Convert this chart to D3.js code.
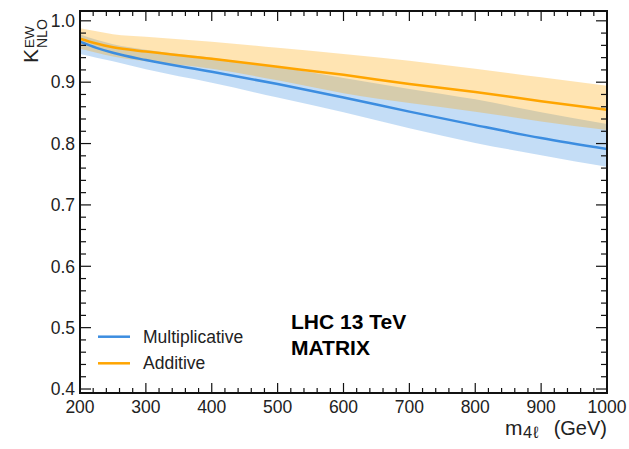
<!DOCTYPE html>
<html>
<head>
<meta charset="utf-8">
<script src="https://cdn.jsdelivr.net/npm/d3@7"></script>
<style>
  html, body { margin: 0; padding: 0; background: #fff; }
  svg { display: block; font-family: "Liberation Sans", Arial, Helvetica, sans-serif; }
</style>
</head>
<body>
<svg id="chart" width="629" height="449"></svg>
<script>
// Invariant-mass points (GeV) at which the EW K-factor is evaluated
const mass = [200, 225, 250, 300, 400, 500, 600, 700, 800, 900, 1000];

// Multiplicative combination: central value and uncertainty band
const multCentral = [0.966, 0.956, 0.948, 0.936, 0.917, 0.897, 0.875, 0.852, 0.830, 0.809, 0.791];
const multLow     = [0.946, 0.940, 0.934, 0.921, 0.899, 0.875, 0.851, 0.825, 0.801, 0.781, 0.762];
const multHigh    = [0.978, 0.969, 0.962, 0.953, 0.940, 0.925, 0.907, 0.889, 0.872, 0.851, 0.832];

// Additive combination: central value and uncertainty band
const addCentral = [0.971, 0.963, 0.957, 0.950, 0.938, 0.925, 0.912, 0.897, 0.884, 0.869, 0.855];
const addLow     = [0.955, 0.948, 0.942, 0.934, 0.922, 0.903, 0.882, 0.866, 0.852, 0.836, 0.822];
const addHigh    = [0.988, 0.983, 0.978, 0.974, 0.966, 0.956, 0.946, 0.935, 0.922, 0.908, 0.894];

// Axis ticks
const xMajor = [200, 300, 400, 500, 600, 700, 800, 900, 1000];
const yMajor = [0.4, 0.5, 0.6, 0.7, 0.8, 0.9, 1.0];
const xTickLabels = ["200", "300", "400", "500", "600", "700", "800", "900", "1000"];
const yTickLabels = ["0.4", "0.5", "0.6", "0.7", "0.8", "0.9", "1.0"];

const seriesNames = ["Multiplicative", "Additive"];

const svg = d3.select("#chart");
const plotL = 80, plotR = 607, plotT = 11, plotB = 393;

const x = d3.scaleLinear().domain([200, 1000]).range([plotL, plotR]);
const y = d3.scaleLinear().domain([0.3935, 1.016]).range([plotB, plotT]);

const blue = "#3c8de0", orange = "#ffa500";

svg.append("clipPath").attr("id", "plotClip")
  .append("rect").attr("x", plotL).attr("y", plotT)
  .attr("width", plotR - plotL).attr("height", plotB - plotT);

const plot = svg.append("g").attr("clip-path", "url(#plotClip)");

function bandRows(lo, hi) { return mass.map((m, i) => ({ m, lo: lo[i], hi: hi[i] })); }
function lineRows(c) { return mass.map((m, i) => ({ m, v: c[i] })); }

const area = d3.area().curve(d3.curveMonotoneX)
  .x(d => x(d.m)).y0(d => y(d.lo)).y1(d => y(d.hi));
const line = d3.line().curve(d3.curveMonotoneX)
  .x(d => x(d.m)).y(d => y(d.v));

// Uncertainty bands (blue first, orange laid over it)
plot.append("path").datum(bandRows(multLow, multHigh))
  .attr("d", area).attr("fill", blue).attr("fill-opacity", 0.3);
plot.append("path").datum(bandRows(addLow, addHigh))
  .attr("d", area).attr("fill", orange).attr("fill-opacity", 0.3);

// Central curves
plot.append("path").datum(lineRows(multCentral))
  .attr("d", line).attr("fill", "none").attr("stroke", blue).attr("stroke-width", 2.5);
plot.append("path").datum(lineRows(addCentral))
  .attr("d", line).attr("fill", "none").attr("stroke", orange).attr("stroke-width", 2.5);

// Axes with ticks on all four sides
const xMinor = d3.range(200, 1000.01, 20).filter(v => v % 100 !== 0);
const yMinor = d3.range(0.40, 1.0151, 0.02).map(v => +v.toFixed(2))
  .filter(v => Math.abs(v * 10 - Math.round(v * 10)) > 1e-6);

const axisColor = "#111";
const frame = svg.append("g");

function drawXTicks(yPos, dir) {
  frame.append("g").selectAll("line").data(xMajor).join("line")
    .attr("x1", d => x(d)).attr("x2", d => x(d))
    .attr("y1", yPos).attr("y2", yPos + dir * 10)
    .attr("stroke", axisColor).attr("stroke-width", 1.2);
  frame.append("g").selectAll("line").data(xMinor).join("line")
    .attr("x1", d => x(d)).attr("x2", d => x(d))
    .attr("y1", yPos).attr("y2", yPos + dir * 5)
    .attr("stroke", axisColor).attr("stroke-width", 1.2);
}
function drawYTicks(xPos, dir) {
  frame.append("g").selectAll("line").data(yMajor).join("line")
    .attr("y1", d => y(d)).attr("y2", d => y(d))
    .attr("x1", xPos).attr("x2", xPos + dir * 11)
    .attr("stroke", axisColor).attr("stroke-width", 1.2);
  frame.append("g").selectAll("line").data(yMinor).join("line")
    .attr("y1", d => y(d)).attr("y2", d => y(d))
    .attr("x1", xPos).attr("x2", xPos + dir * 6)
    .attr("stroke", axisColor).attr("stroke-width", 1.2);
}
drawXTicks(plotB, -1);
drawXTicks(plotT, 1);
drawYTicks(plotL, 1);
drawYTicks(plotR, -1);

frame.append("rect").attr("x", plotL).attr("y", plotT)
  .attr("width", plotR - plotL).attr("height", plotB - plotT)
  .attr("fill", "none").attr("stroke", axisColor).attr("stroke-width", 2);

// Tick labels
const labelColor = "#222";
svg.append("g").selectAll("text").data(xMajor).join("text")
  .attr("x", d => x(d)).attr("y", 413)
  .attr("text-anchor", "middle").attr("font-size", 17.5).attr("fill", labelColor)
  .text((d, i) => xTickLabels[i]);
svg.append("g").selectAll("text").data(yMajor).join("text")
  .attr("x", 75).attr("y", d => y(d)).attr("dy", "0.36em")
  .attr("text-anchor", "end").attr("font-size", 17.5).attr("fill", labelColor)
  .text((d, i) => yTickLabels[i]);

// X axis title: m_{4ℓ} (GeV), right-aligned to the frame
const xTitle = svg.append("g").attr("fill", labelColor);
xTitle.append("text").attr("x", 505).attr("y", 435).attr("font-size", 21).text("m");
xTitle.append("text").attr("x", 523).attr("y", 438).attr("font-size", 16.5)
  .attr("letter-spacing", 1).text("4ℓ");
xTitle.append("text").attr("x", plotR).attr("y", 435).attr("text-anchor", "end")
  .attr("font-size", 20).text("(GeV)");

// Y axis title: K^{EW}_{NLO}, rotated
const yt = svg.append("g").attr("transform", "translate(37.5,63) rotate(-90)").attr("fill", labelColor);
yt.append("text").attr("x", 0).attr("y", 0).attr("font-size", 21).text("K");
yt.append("text").attr("x", 15).attr("y", -4).attr("font-size", 13.5).text("EW");
yt.append("text").attr("x", 15).attr("y", 9).attr("font-size", 14).text("NLO");

// Legend
const legendColors = [blue, orange];
const legendY = [336.7, 363.3];
const lg = svg.append("g");
seriesNames.forEach((name, i) => {
  lg.append("line").attr("x1", 98).attr("x2", 130)
    .attr("y1", legendY[i]).attr("y2", legendY[i])
    .attr("stroke", legendColors[i]).attr("stroke-width", 2.5);
  lg.append("text").attr("x", 143).attr("y", legendY[i] + 6)
    .attr("font-size", 17.5).attr("fill", "#222").text(name);
});

// Collider / generator annotation
svg.append("text").attr("x", 291).attr("y", 328.5)
  .attr("font-size", 21).attr("font-weight", "bold").attr("fill", "#000").text("LHC 13 TeV");
svg.append("text").attr("x", 291).attr("y", 355)
  .attr("font-size", 21).attr("font-weight", "bold").attr("fill", "#000").text("MATRIX");
</script>
</body>
</html>
